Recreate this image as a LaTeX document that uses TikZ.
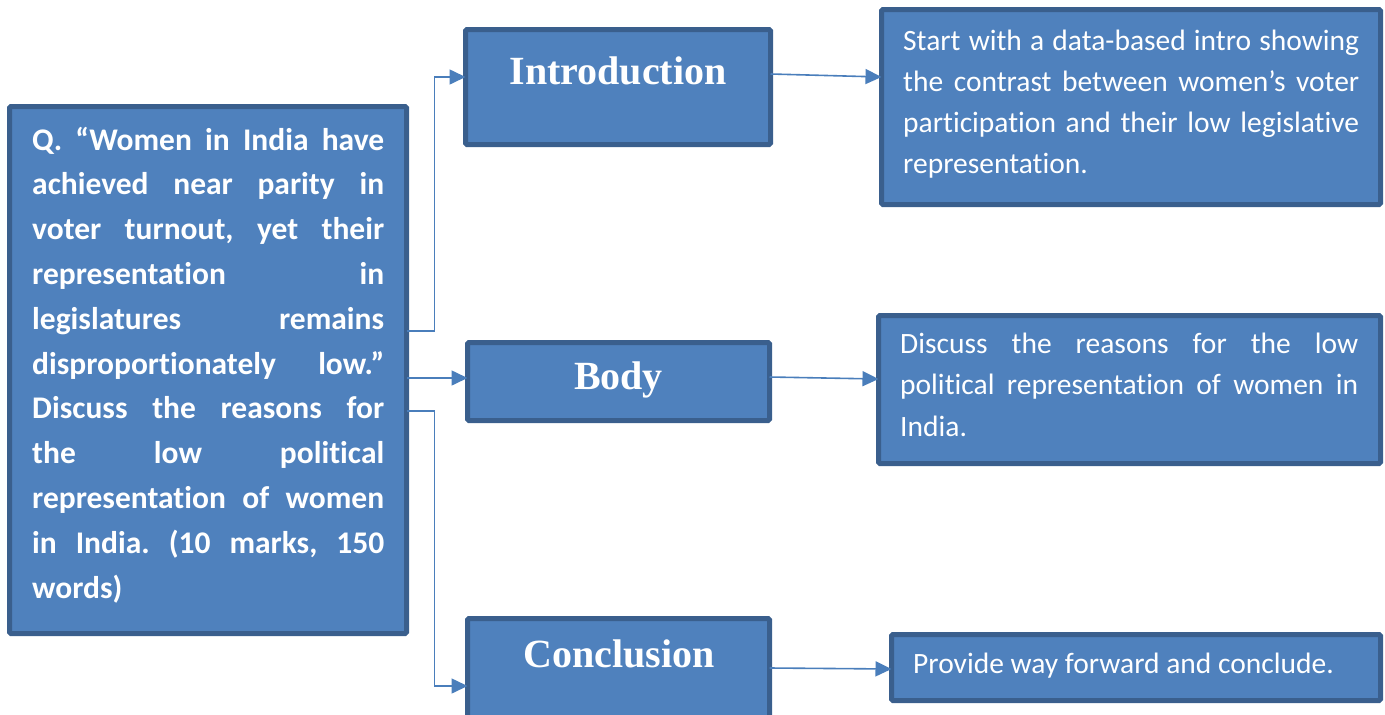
\documentclass[tikz,border=0pt]{standalone}
\usepackage{fontspec}
\setmainfont{Carlito}[Ligatures=NoCommon]
\newfontfamily\headfont{Liberation Serif}
\usetikzlibrary{arrows.meta}
\definecolor{boxfill}{HTML}{4F81BD}
\definecolor{boxline}{HTML}{3A5F8D}
\definecolor{linkblue}{HTML}{4A7EBB}
\tikzset{
  panel/.style={draw=boxline, fill=boxfill, line width=5pt, rounded corners=1.5pt,
    inner sep=0pt, outer sep=0pt, anchor=center},
  link/.style={draw=linkblue, line width=1.6pt, -{Triangle[length=16pt,width=15pt]}},
  heading/.style={anchor=base, inner sep=0pt, text=white,
    font=\headfont\bfseries\fontsize{40}{40}\selectfont},
  bodytext/.style={anchor=base west, inner sep=0pt, text=white, align=left}
}
\newcommand\fline[2]{\hbox to #1{#2}}
\frenchspacing
\begin{document}
\begin{tikzpicture}[x=1pt,y=-1pt]
  \useasboundingbox (0,0) rectangle (1385,715);
  \clip (0,0) rectangle (1385,715);

  % boxes
  \node[panel, minimum width=397pt, minimum height=527pt] (q) at (208,370) {};
  \node[panel, minimum width=305pt, minimum height=115pt] (intro) at (618,87) {};
  \node[panel, minimum width=302pt, minimum height=78pt] (body) at (618.5,381.5) {};
  \node[panel, minimum width=302pt, minimum height=121.5pt] (concl) at (618.5,679.25) {};
  \node[panel, minimum width=499pt, minimum height=195pt] (introd) at (1131,107) {};
  \node[panel, minimum width=502pt, minimum height=148pt] (bodyd) at (1129.5,389.5) {};
  \node[panel, minimum width=489pt, minimum height=66pt] (concld) at (1136,667.5) {};

  % question text
  \node[bodytext] (qtext) at (32,150) {\parbox[t]{352pt}{\frenchspacing\bfseries\fontsize{31.5}{44.8}\selectfont
    \fline{352pt}{Q. “Women in India have}
    \fline{352pt}{achieved near parity in}
    \fline{352pt}{voter turnout, yet their}
    \fline{352pt}{representation \hfill in}
    \fline{352pt}{legislatures \hfill remains}
    \fline{352pt}{disproportionately low.”}
    \fline{352pt}{Discuss the reasons for}
    \fline{352pt}{the \hfill low \hfill political}
    \fline{352pt}{representation of women}
    \fline{352pt}{in India. (10 marks, 150}
    \hbox{words)}}};

  % headings
  \node[heading] (introh) at (618,84) {Introduction};
  \node[heading] (bodyh) at (618.5,389) {Body};
  \node[heading] (conclh) at (619,667) {Conclusion};

  % detail texts
  \node[bodytext] (introt) at (903,50) {\parbox[t]{456pt}{\frenchspacing\fontsize{29.5}{41.3}\selectfont
    \fline{456pt}{Start with a data-based intro showing}
    \fline{456pt}{the contrast between women’s voter}
    \fline{456pt}{participation and their low legislative}
    \hbox{representation.}}};
  \node[bodytext] (bodyt) at (900,353) {\parbox[t]{458pt}{\frenchspacing\fontsize{29.5}{41.8}\selectfont
    \fline{458pt}{Discuss the reasons for the low}
    \fline{458pt}{political representation of women in}
    \hbox{India.}}};
  \node[bodytext] (conclt) at (913,673) {\fontsize{29.5}{30}\selectfont Provide way forward and conclude.};

  % connectors
  \draw[link] ([yshift=39pt]q.east) -- ++(28,0) |- ([yshift=10pt]intro.west);
  \draw[link] ([yshift=-8pt]q.east) -- ([yshift=3.5pt]body.west);
  \draw[link] ([yshift=-41pt]q.east) -- ++(28,0) |- ([yshift=-6.75pt]concl.west);
  \draw[link] ([yshift=13pt]intro.east) -- ([yshift=30pt]introd.west);
  \draw[link] ([yshift=4.5pt]body.east) -- ([yshift=10.5pt]bodyd.west);
  \draw[link] ([yshift=11.25pt]concl.east) -- ([yshift=-1.5pt]concld.west);
\end{tikzpicture}
\end{document}
